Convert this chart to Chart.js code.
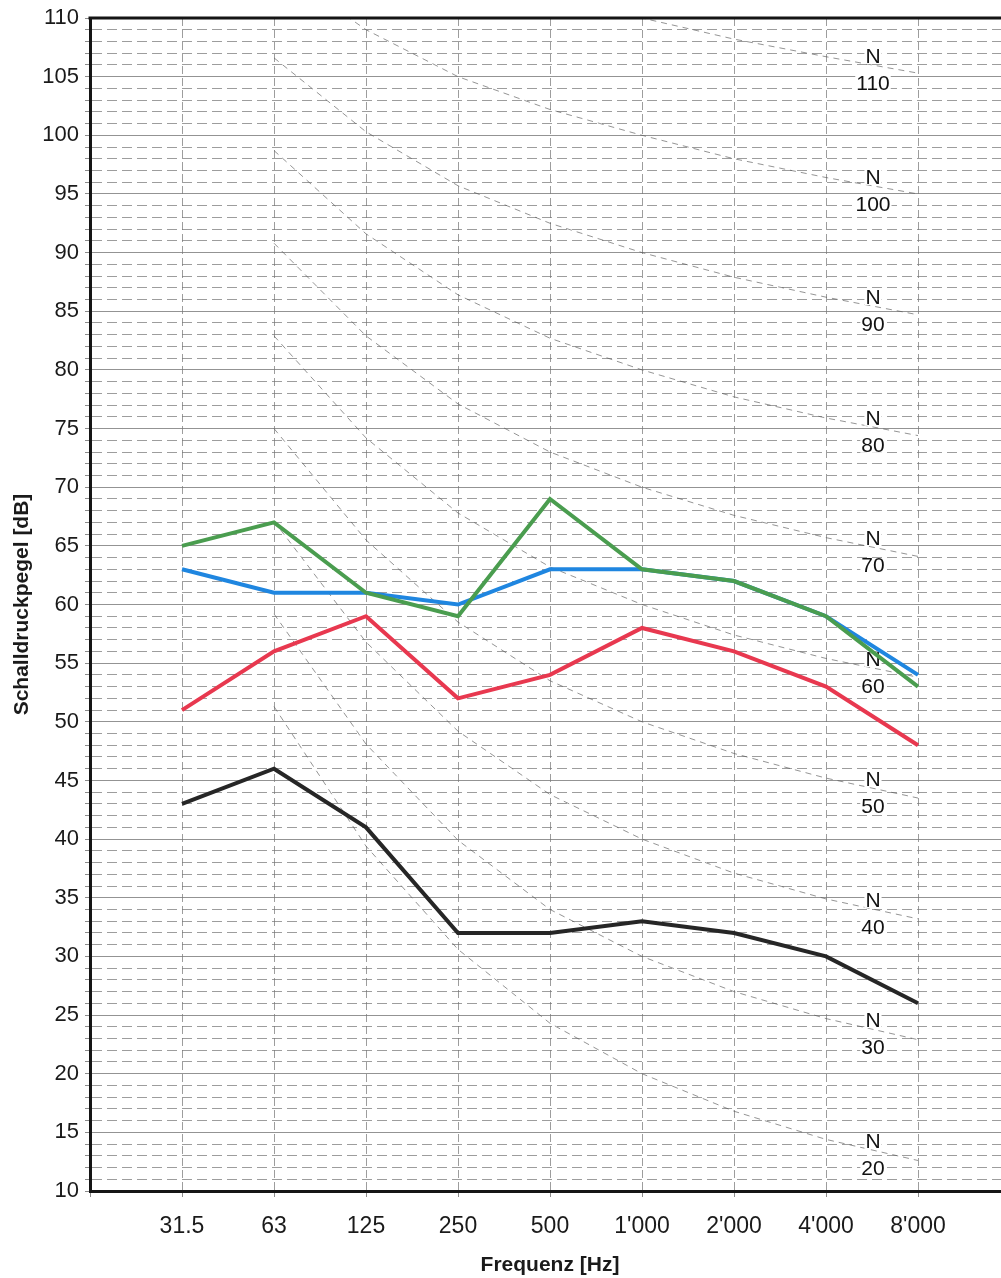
<!DOCTYPE html>
<html>
<head>
<meta charset="utf-8">
<script src="https://cdn.jsdelivr.net/npm/chart.js@4"></script>
<style>
html, body { margin: 0; padding: 0; background: #fff; overflow: hidden; }
canvas { display: block; }
</style>
</head>
<body>
<canvas id="chartNR" width="1012" height="1278"></canvas>
<script>
// Oktavbänder
const baender = ['31.5', '63', '125', '250', '500', "1'000", "2'000", "4'000", "8'000"];

// Messreihen [dB]
const gruen = [65, 67, 61, 59, 69, 63, 62, 59, 53];
const blau = [63, 61, 61, 60, 63, 63, 62, 59, 54];
const rot = [51, 56, 59, 52, 54, 58, 56, 53, 48];
const schwarz = [43, 46, 41, 32, 32, 33, 32, 30, 26];

const nr20 = [51.3, 39.4, 30.6, 24.3, 20, 16.8, 14.4, 12.6];
const nr30 = [59.2, 48.1, 39.9, 34.0, 30, 27.0, 24.7, 22.9];
const nr40 = [67.1, 56.8, 49.2, 43.8, 40, 37.1, 34.9, 33.2];
const nr50 = [75.0, 65.5, 58.5, 53.5, 50, 47.3, 45.2, 43.5];
const nr60 = [82.9, 74.2, 67.8, 63.2, 60, 57.4, 55.4, 53.8];
const nr70 = [90.8, 82.9, 77.1, 73.0, 70, 67.6, 65.7, 64.1];
const nr80 = [98.7, 91.6, 86.4, 82.7, 80, 77.7, 75.9, 74.4];
const nr90 = [106.6, 100.3, 95.7, 92.5, 90, 87.9, 86.2, 84.7];
const nr100 = [114.5, 109.0, 105.0, 102.2, 100, 98.0, 96.4, 95.0];
const nr110 = [122.4, 117.7, 114.3, 111.9, 110, 108.2, 106.7, 105.3];
const nrKurven = [[20, nr20], [30, nr30], [40, nr40], [50, nr50], [60, nr60],
                  [70, nr70], [80, nr80], [90, nr90], [100, nr100], [110, nr110]];

const schrift = '"Liberation Sans", Arial, Helvetica, sans-serif';
const grau = 'rgba(115,115,115,0.7)';

const reihe = (werte, farbe) => ({
    data: werte.map((v, i) => ({ x: i, y: v })),
    borderColor: farbe,
    borderWidth: 4,
    pointRadius: 0,
    tension: 0,
    fill: false
});

const datensaetze = [
    reihe(gruen, '#4a9d4f'),
    reihe(blau, '#1f86e0'),
    reihe(rot, '#e8384f'),
    reihe(schwarz, '#262626')
];
const ersteNr = datensaetze.length;
nrKurven.forEach(([n, werte]) => {
    datensaetze.push({
        data: werte.map((v, i) => ({ x: i + 1, y: v })),
        borderColor: 'rgba(90,90,90,0.65)',
        borderWidth: 1,
        borderDash: [6, 5],
        pointRadius: 0,
        tension: 0,
        fill: false
    });
});

// Beschriftung der N-Kurven (zwischen 4'000 und 8'000)
const nrBeschriftung = {
    id: 'nrBeschriftung',
    afterDatasetDraw(chart, args) {
        if (args.index !== ersteNr) return;
        const { ctx, scales: { x, y } } = chart;
        ctx.save();
        ctx.font = '21px ' + schrift;
        ctx.textAlign = 'center';
        ctx.textBaseline = 'middle';
        const schreibe = (txt, px, py) => {
            const w = ctx.measureText(txt).width;
            ctx.fillStyle = '#fff';
            ctx.fillRect(px - w / 2 - 1, py - 7, w + 2, 15);
            ctx.fillStyle = '#111';
            ctx.fillText(txt, px, py + 1);
        };
        nrKurven.forEach(([n, werte]) => {
            const px = x.getPixelForValue(7.5) + 1;
            const py = y.getPixelForValue((werte[6] + werte[7]) / 2);
            if (py > chart.chartArea.bottom) return;
            schreibe('N', px, py - 9);
            schreibe(String(n), px, py + 18);
        });
        ctx.restore();
    }
};

// dicker Rahmen oben
const rahmenOben = {
    id: 'rahmenOben',
    afterDraw(chart) {
        const { ctx, chartArea: a } = chart;
        ctx.save();
        ctx.strokeStyle = '#151515';
        ctx.lineWidth = 3;
        ctx.beginPath();
        ctx.moveTo(a.left - 1.5, a.top);
        ctx.lineTo(a.right + 2, a.top);
        ctx.stroke();
        ctx.restore();
    }
};

const ohnePolster = s => { s.paddingTop = 0; s.paddingBottom = 0; s.paddingLeft = 0; s.paddingRight = 0; };

const ctxNR = document.getElementById('chartNR').getContext('2d');
new Chart(ctxNR, {
    type: 'line',
    data: { datasets: datensaetze },
    plugins: [nrBeschriftung, rahmenOben],
    options: {
        responsive: false,
        animation: false,
        layout: { padding: { top: 18, right: 2, left: 0, bottom: 0 } },
        plugins: { legend: { display: false }, tooltip: { enabled: false } },
        scales: {
            x: {
                type: 'linear',
                min: -1,
                max: 9,
                afterFit: s => { s.height = 87; ohnePolster(s); },
                ticks: {
                    stepSize: 1,
                    autoSkip: false,
                    maxRotation: 0,
                    padding: 16,
                    color: '#1a1a1a',
                    font: { family: schrift, size: 23 },
                    callback: v => (v >= 0 && v < baender.length ? baender[v] : '')
                },
                grid: {
                    color: grau,
                    lineWidth: 1,
                    tickLength: 6,
                    tickColor: 'rgba(110,110,110,0.8)'
                },
                border: { display: true, color: '#151515', width: 3, dash: [8, 4] },
                title: {
                    display: true,
                    text: 'Frequenz [Hz]',
                    color: '#1a1a1a',
                    font: { family: schrift, size: 21, weight: 'bold' },
                    padding: { top: 0, bottom: 0 }
                }
            },
            y: {
                min: 10,
                max: 110,
                afterFit: s => { s.width = 90; ohnePolster(s); },
                ticks: {
                    stepSize: 1,
                    autoSkip: false,
                    padding: 6,
                    color: '#1a1a1a',
                    font: { family: schrift, size: 22 },
                    callback: v => (v % 5 === 0 ? String(v) : '')
                },
                grid: {
                    color: c => (c.tick && c.tick.value % 5 === 0 ? 'rgba(0,0,0,0)' : grau),
                    lineWidth: 1,
                    tickLength: 5,
                    tickColor: 'rgba(110,110,110,0.8)'
                },
                border: { display: true, color: '#151515', width: 3, dash: [10, 5] },
                title: {
                    display: true,
                    text: 'Schalldruckpegel [dB]',
                    color: '#1a1a1a',
                    font: { family: schrift, size: 21, weight: 'bold' },
                    padding: { top: 10, bottom: 0 }
                }
            },
            y5: {
                position: 'right',
                min: 10,
                max: 110,
                afterFit: s => { s.width = 0; ohnePolster(s); },
                ticks: { display: false, stepSize: 5 },
                grid: { color: 'rgba(120,120,120,0.8)', lineWidth: 1, drawTicks: false },
                border: { display: false }
            }
        }
    }
});
</script>
</body>
</html>
